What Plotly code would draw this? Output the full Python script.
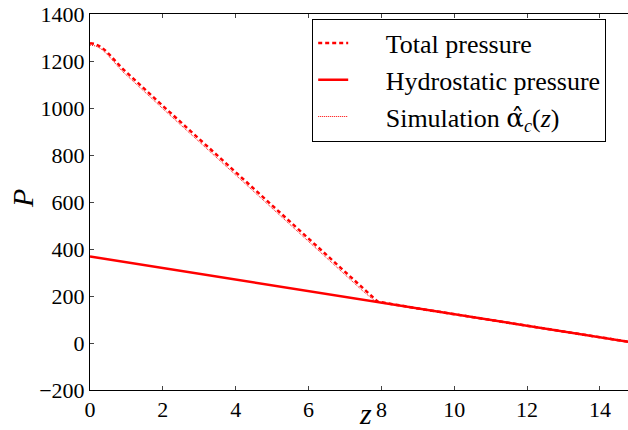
import plotly.graph_objects as go

# --- data ---
z_total = [0.0, 0.15, 0.3, 0.45, 0.6, 0.75, 0.9, 1.1, 1.5, 2.0, 3.0, 4.0, 5.0, 6.0, 7.0, 7.5, 7.9, 9.0, 11.0, 13.0, 15.0]
p_total = [1276, 1272, 1260, 1241, 1216, 1191, 1166, 1138, 1080, 1009, 868, 727, 586, 445, 304, 233, 176, 147, 98, 49, 0]

z_sim = [0.0, 0.15, 0.3, 0.45, 0.6, 0.75, 0.9, 1.1, 1.5, 2.0, 3.0, 4.0, 5.0, 6.0, 7.0, 7.5, 7.85, 9.0, 11.0, 13.0, 15.0]
p_sim = [1268, 1264, 1252, 1232, 1206, 1180, 1154, 1126, 1068, 997, 856, 715, 574, 432, 291, 220, 175, 147, 98, 49, 0]

z_hydro = [0.0, 15.0]
p_hydro = [368, 0]

x_ticks = [0, 2, 4, 6, 8, 10, 12, 14]
y_ticks = [-200, 0, 200, 400, 600, 800, 1000, 1200, 1400]

FONT = "Liberation Serif"
GAP = "\u00a0" * 5  # space between legend sample and label

fig = go.Figure()
fig.add_trace(go.Scatter(x=z_total, y=p_total, mode="lines", name=GAP + "Total pressure",
                         line=dict(color="#ff0000", width=2.5, dash="4px,3px")))
fig.add_trace(go.Scatter(x=z_hydro, y=p_hydro, mode="lines", name=GAP + "Hydrostatic pressure",
                         line=dict(color="#ff0000", width=2.5)))
fig.add_trace(go.Scatter(x=z_sim, y=p_sim, mode="lines",
                         name=GAP + 'Simulation <span style="font-family:DejaVu Serif">α̂</span>'
                                    "<sub><i>c</i></sub>(<i>z</i>)",
                         line=dict(color="#ff0000", width=1, dash="1px,1px")))

fig.update_layout(
    width=628, height=430,
    margin=dict(l=90, r=0, t=14, b=40),
    plot_bgcolor="white", paper_bgcolor="white",
    font=dict(family=FONT, size=22, color="black"),
    showlegend=True,
    legend=dict(x=0.413, y=0.988, xanchor="left", yanchor="top",
                bgcolor="white", bordercolor="black", borderwidth=1,
                font=dict(family=FONT, size=26)),
    annotations=[
        dict(text="<i>z</i>", x=0.513, y=-0.062, xref="paper", yref="paper",
             xanchor="center", yanchor="middle", showarrow=False,
             font=dict(family=FONT, size=30)),
        dict(text="<i>P</i>", x=-0.1245, y=0.508, xref="paper", yref="paper",
             xanchor="center", yanchor="middle", showarrow=False, textangle=-90,
             font=dict(family=FONT, size=30)),
    ],
)
fig.update_xaxes(range=[0, 14.77], tickvals=x_ticks, ticks="inside", ticklen=4,
                 showline=True, linecolor="black", linewidth=1, mirror="allticks",
                 showgrid=False, zeroline=False, automargin=False)
fig.update_yaxes(range=[-200, 1400], tickvals=y_ticks, ticks="inside", ticklen=4,
                 showline=True, linecolor="black", linewidth=1,
                 showgrid=False, zeroline=False, automargin=False)

fig.write_html("out.html", config={"displayModeBar": False},
               post_script="document.body.style.margin='0';")
